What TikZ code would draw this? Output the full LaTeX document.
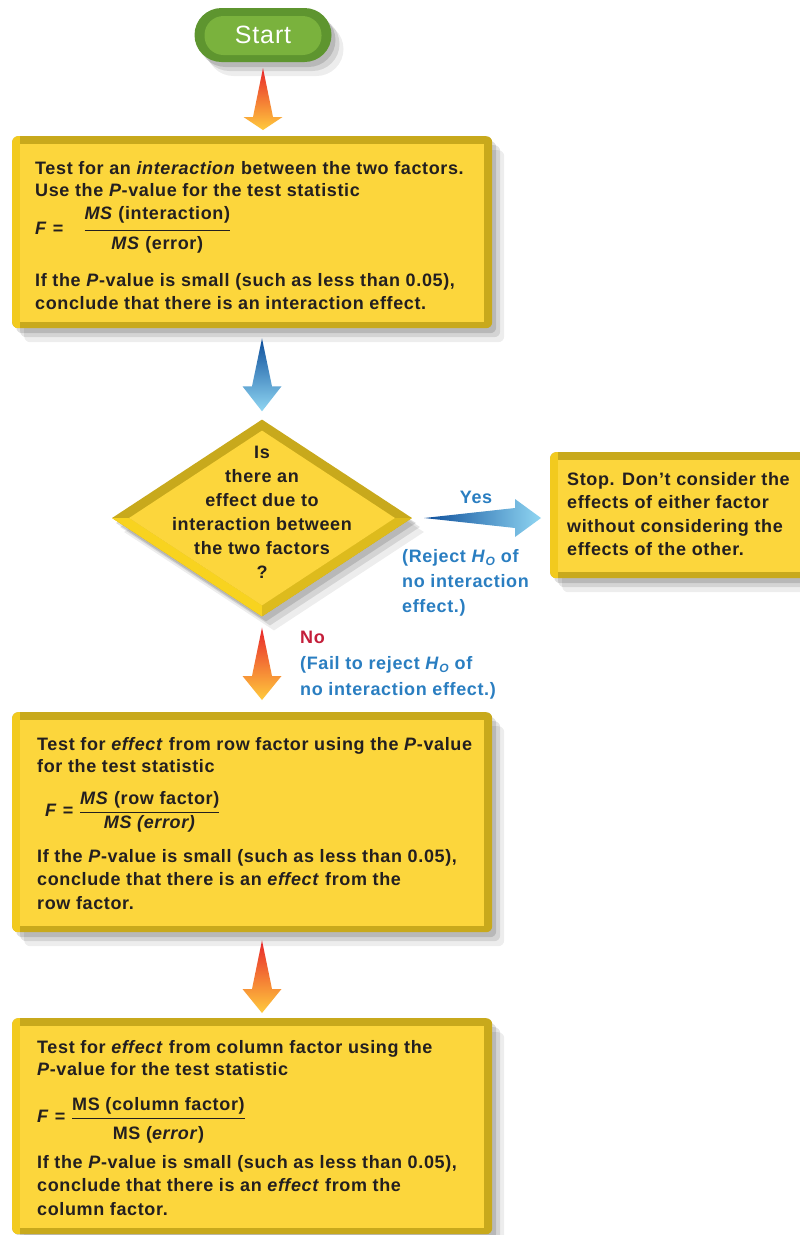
\documentclass[tikz,border=0pt]{standalone}
\usepackage{fontspec}
\setmainfont[LetterSpace=3.5]{Liberation Sans}
\usetikzlibrary{shapes.geometric,calc,shadows}

\definecolor{ink}{HTML}{231F20}
\definecolor{boxface}{HTML}{FCD63C}
\definecolor{boxrim}{HTML}{C8A91C}
\definecolor{boxlit}{HTML}{F2CA1E}
\definecolor{dmlit}{HTML}{F8D31F}
\definecolor{dmmid}{HTML}{DDBB1D}
\definecolor{btnrim}{HTML}{5E952F}
\definecolor{btnface}{HTML}{7AB23D}
\definecolor{askblue}{HTML}{2A7EC1}
\definecolor{nored}{HTML}{C41E3A}
\definecolor{arrred}{HTML}{E8262B}
\definecolor{arrgold}{HTML}{FFCB3D}
\definecolor{arrnavy}{HTML}{0D4E9B}
\definecolor{arrsky}{HTML}{90D6F2}

\newcommand{\flowfont}{\bfseries\fontsize{18}{23.5}\selectfont}
\newcommand{\hnull}{\textit{H}\raisebox{-0.35ex}{\fontsize{12}{12}\selectfont\textit{O}}}
% fraction: numerator raise, numerator, denominator raise, denominator
\newcommand{\msfrac}[4]{$\displaystyle\frac{\raisebox{#1}{#2}}{\raisebox{#3}{#4}}$}

% tapered arrow pointing down: top point, tip, colours, head length
\newcommand{\downshaft}[5]{%
  \shade[top color=#3,bottom color=#4] let \p1=(#1), \p2=(#2) in
    (\x1,\y1) -- (\x1+10,\y2+#5) -- (\x1+19.5,\y2+#5) -- (\x1,\y2)
    -- (\x1-19.5,\y2+#5) -- (\x1-10,\y2+#5) -- cycle;}
% tapered arrow pointing right
\newcommand{\rightshaft}[5]{%
  \shade[left color=#3,right color=#4] let \p1=(#1), \p2=(#2) in
    (\x1,\y1) -- (\x2-#5,\y1+10) -- (\x2-#5,\y1+19) -- (\x2,\y1)
    -- (\x2-#5,\y1-19) -- (\x2-#5,\y1-10) -- cycle;}

\tikzset{
  softshadow/.style={
    drop shadow={shadow xshift=4pt,shadow yshift=-5pt,opacity=.13,fill=black},
    drop shadow={shadow xshift=8pt,shadow yshift=-9pt,opacity=.10,fill=black},
    drop shadow={shadow xshift=12pt,shadow yshift=-14pt,opacity=.07,fill=black}},
  stepbox/.style={rectangle,rounded corners=6pt,fill=boxrim,softshadow,
    minimum width=480pt,inner sep=0pt,anchor=north west,
    path picture={
      \fill[boxlit,sharp corners] (path picture bounding box.north west) rectangle
        ([xshift=8pt]path picture bounding box.south west);
      \fill[boxface,sharp corners] ([shift={(8pt,-8pt)}]path picture bounding box.north west)
        rectangle ([shift={(-8pt,6pt)}]path picture bounding box.south east);}},
  decision/.style={diamond,minimum width=300pt,minimum height=197pt,inner sep=0pt,
    fill=boxrim,softshadow,
    path picture={
      \fill[dmlit] (path picture bounding box.west) -- (path picture bounding box.south)
        -- ([yshift=11pt]path picture bounding box.south) -- ([xshift=17pt]path picture bounding box.west) -- cycle;
      \fill[dmmid] (path picture bounding box.east) -- (path picture bounding box.south)
        -- ([yshift=11pt]path picture bounding box.south) -- ([xshift=-17pt]path picture bounding box.east) -- cycle;
      \fill[boxface] ([xshift=17pt]path picture bounding box.west) -- ([yshift=-11pt]path picture bounding box.north)
        -- ([xshift=-17pt]path picture bounding box.east) -- ([yshift=11pt]path picture bounding box.south) -- cycle;}},
  startbtn/.style={rectangle,rounded corners=27pt,minimum width=137pt,minimum height=54pt,
    fill=btnrim,softshadow,text=white,font=\fontsize{25}{28}\selectfont,
    path picture={\fill[btnface,rounded corners=19pt]
      ([shift={(10pt,-8pt)}]path picture bounding box.north west) rectangle
      ([shift={(-10pt,7pt)}]path picture bounding box.south east);}},
  boxtext/.style={anchor=north west,align=left,inner sep=0pt,text=ink,font=\flowfont},
  note/.style={anchor=north west,align=left,inner sep=0pt,text=askblue},
}

\begin{document}
\begin{tikzpicture}[x=1pt,y=1pt]
    \path[use as bounding box,fill=white] (0,0) rectangle (800,-1235);

    % Start
    \node[startbtn] (start) at (263,-35) {Start};

    % Boxes
    \node[stepbox,minimum height=192pt] (inter) at (12,-136) {};
    \node[decision] (ask) at (262,-518) {};
    \node[stepbox,minimum width=270pt,minimum height=126pt] (stop) at (550,-452) {};
    \node[stepbox,minimum height=220pt] (row) at (12,-712) {};
    \node[stepbox,minimum height=216pt] (col) at (12,-1018) {};

    % Texts in the boxes
    \node[boxtext] (intertxt) at ($(inter.north west)+(23,-25)$) {%
      Test for an \textit{interaction} between the two factors.\\[-1pt]
      Use the \textit{P}-value for the test statistic\\[9pt]
      \textit{F} =\hspace{20pt}\msfrac{3pt}{\textit{MS} (interaction)}{-3pt}{\textit{MS} (error)}\\[19pt]
      If the \textit{P}-value is small (such as less than 0.05),\\
      conclude that there is an interaction effect.};
    \node[font=\bfseries\fontsize{18}{24}\selectfont,text=ink,align=center] (asktxt) at (262,-512)
      {Is\\ there an\\ effect due to\\ interaction between\\ the two factors\\ ?};
    \node[boxtext] (stoptxt) at ($(stop.north west)+(17,-20)$) {%
      Stop. Don't consider the\\ effects of either factor\\
      without considering the\\ effects of the other.};
    \node[boxtext] (rowtxt) at ($(row.north west)+(25,-25)$) {%
      Test for \textit{effect} from row factor using the \textit{P}-value\\[-1pt]
      for the test statistic\\[18pt]
      \hspace{8pt}\textit{F} = \msfrac{0pt}{\textit{MS} (row factor)}{0pt}{\textit{MS (error)}}\\[16pt]
      If the \textit{P}-value is small (such as less than 0.05),\\
      conclude that there is an \textit{effect} from the\\ row factor.};
    \node[boxtext] (coltxt) at ($(col.north west)+(25,-22)$) {%
      Test for \textit{effect} from column factor using the\\[-1pt]
      \textit{P}-value for the test statistic\\[21pt]
      \textit{F} = \msfrac{0pt}{MS (column factor)}{-5pt}{MS (\textit{error})}\\[11pt]
      If the \textit{P}-value is small (such as less than 0.05),\\
      conclude that there is an \textit{effect} from the\\ column factor.};

    % Arrows
    \downshaft{$(start.south)+(0,-6)$}{$(start.south |- inter.north)+(0,6)$}{arrred}{arrgold}{13}
    \downshaft{$(inter.south -| ask.north)+(0,-10)$}{$(ask.north)+(0,8)$}{arrnavy}{arrsky}{25}
    \rightshaft{$(ask.east)+(12,0)$}{$(ask.east -| stop.west)+(-9,0)$}{arrnavy}{arrsky}{26}
    \downshaft{$(ask.south)+(0,-11)$}{$(ask.south |- row.north)+(0,12)$}{arrred}{arrgold}{24}
    \downshaft{$(row.south -| ask.south)+(0,-8)$}{$(ask.south |- col.north)+(0,5)$}{arrred}{arrgold}{24}

    % Branch labels
    \node[font=\flowfont,text=askblue] (yes) at (476,-497) {Yes};
    \node[note,font=\bfseries\fontsize{18}{25}\selectfont] (reject) at (402,-549)
      {(Reject \hnull{} of\\ no interaction\\ effect.)};
    \node[note,font=\bfseries\fontsize{18}{26}\selectfont] (fail) at (300,-631)
      {\textcolor{nored}{No}\\ (Fail to reject \hnull{} of\\ no interaction effect.)};
\end{tikzpicture}
\end{document}
